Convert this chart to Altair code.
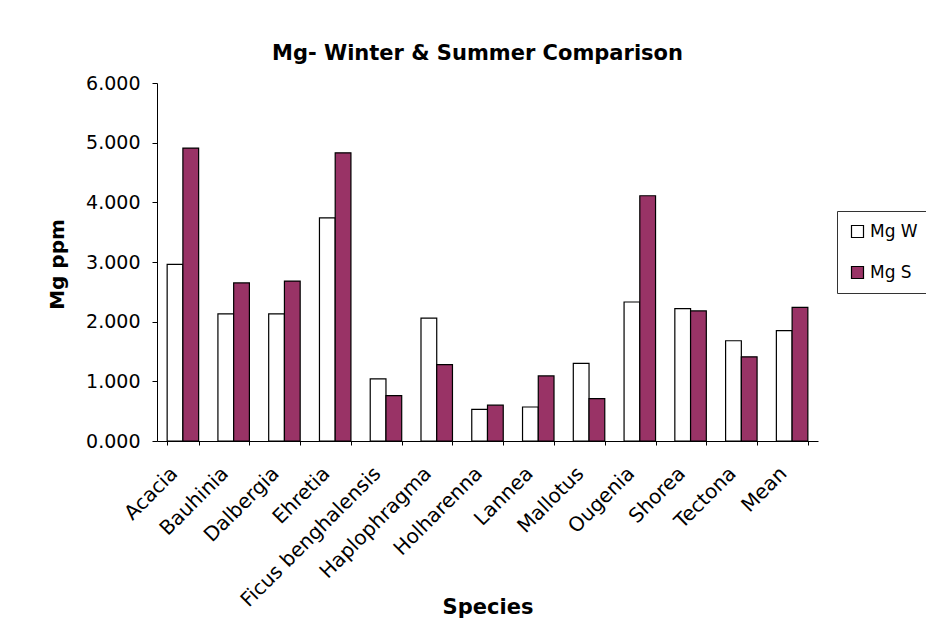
import altair as alt
import pandas as pd

species = ["Acacia", "Bauhinia", "Dalbergia", "Ehretia", "Ficus benghalensis",
           "Haplophragma", "Holharenna", "Lannea", "Mallotus", "Ougenia",
           "Shorea", "Tectona", "Mean"]
mg_w = [2.96, 2.13, 2.13, 3.74, 1.04, 2.06, 0.53, 0.57, 1.30, 2.33, 2.22, 1.68, 1.85]
mg_s = [4.91, 2.65, 2.68, 4.83, 0.76, 1.28, 0.60, 1.09, 0.71, 4.11, 2.18, 1.41, 2.24]
series = ["Mg W", "Mg S"]
colors = ["#ffffff", "#993366"]

rows = []
for i, sp in enumerate(species):
    rows.append({"Species": sp, "Series": series[0], "Value": mg_w[i]})
    rows.append({"Species": sp, "Series": series[1], "Value": mg_s[i]})
df = pd.DataFrame(rows)

font = "DejaVu Sans"

chart = alt.Chart(df).mark_bar(stroke="black", strokeWidth=1.2).encode(
    x=alt.X("Species:N", sort=species,
            scale=alt.Scale(paddingInner=0.38, paddingOuter=0.2),
            axis=alt.Axis(title="Species", labelAngle=-45, labelAlign="right",
                          labelBaseline="top", labelFontSize=20, labelFont=font,
                          labelColor="black", labelPadding=18, labelOffset=-16,
                          labelLimit=400, labelOverlap=False,
                          tickColor="black", tickSize=4, tickBand="extent",
                          domainColor="black",
                          titleFont=font, titleFontSize=21, titleFontWeight="bold",
                          titleColor="black", titleY=172, titleBaseline="alphabetic")),
    xOffset=alt.XOffset("Series:N", sort=series),
    y=alt.Y("Value:Q", scale=alt.Scale(domain=[0, 6]),
            axis=alt.Axis(title="Mg ppm", values=[0, 1, 2, 3, 4, 5, 6], format=".3f",
                          grid=False, labelFontSize=19, labelFont=font,
                          labelColor="black", tickColor="black", tickSize=5,
                          domainColor="black", labelPadding=12,
                          titleFont=font, titleFontSize=20, titleFontWeight="bold",
                          titleColor="black", titleX=-100, titleY=181,
                          titleAngle=-90, titleAlign="center", titleBaseline="middle")),
    color=alt.Color("Series:N", sort=series,
                    scale=alt.Scale(domain=series, range=colors),
                    legend=alt.Legend(title=None, orient="none", legendX=680, legendY=128,
                                      symbolType="square", symbolSize=144,
                                      symbolStrokeColor="black", symbolStrokeWidth=1.2,
                                      labelFontSize=17, labelFont=font, labelColor="black",
                                      labelOffset=4, rowPadding=23, padding=12,
                                      strokeColor="#333333", fillColor="white")),
).properties(
    width=661,
    height=358,
    title=alt.TitleParams("Mg- Winter & Summer Comparison", font=font, fontSize=21,
                          fontWeight="bold", color="black", anchor="middle", offset=10,
                          dx=-10),
    autosize=alt.AutoSizeParams(type="none"),
    padding={"left": 149, "top": 75, "right": 108, "bottom": 177},
).configure(background="white", view=alt.ViewConfig(stroke=None))

chart.save("out.html", embed_options={"renderer": "svg", "actions": False})
